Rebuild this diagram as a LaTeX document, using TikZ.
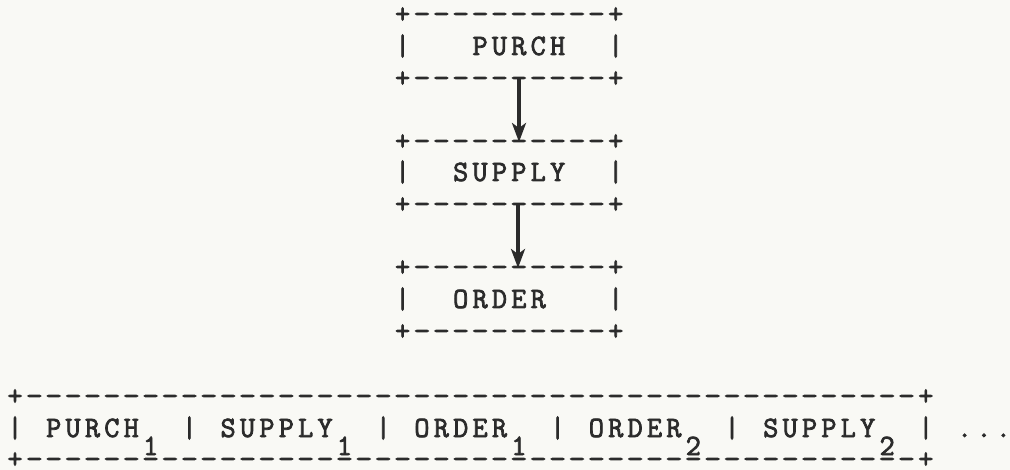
\documentclass[tikz,border=0pt]{standalone}
\usepackage{fontspec}
\usepackage{graphicx}
\usetikzlibrary{arrows.meta}
\newfontfamily\typefont[FakeBold=2.5]{Latin Modern Mono}
\definecolor{ink}{HTML}{2B2B2B}
\definecolor{paper}{HTML}{F9F9F5}
\newlength\cellw
\setlength\cellw{19.38pt}
% one typewriter line: every character sits in a cell of fixed pitch,
% '_' is a blank cell and '-' is a slightly widened rule dash
\ExplSyntaxOn
\NewDocumentCommand\typerow{m}
  {
    \str_map_inline:nn {#1}
      {
        \str_case:nnF {##1}
          {
            {_} { \hbox_to_wd:nn {\cellw} {} }
            {-} { \makebox[\cellw][c]{\scalebox{1.12}[1]{-}} }
          }
          { \makebox[\cellw][c]{##1} }
      }
  }
\ExplSyntaxOff
\tikzset{
  row/.style={inner sep=0pt, outer sep=0pt, anchor=base west, text=ink,
    font=\typefont\fontsize{29.5}{29.5}\selectfont},
  subdigit/.style={inner sep=0pt, outer sep=0pt, anchor=base, text=ink,
    font=\typefont\fontsize{29.5}{29.5}\selectfont},
  flow/.style={draw=ink, line width=3.2pt,
    -{Stealth[length=19pt,width=14pt,inset=5pt]}}
}
\begin{document}
\begin{tikzpicture}[x=1pt,y=-1pt]
\fill[paper] (0,0) rectangle (1010,470);
\useasboundingbox (0,0) rectangle (1010,470);

% PURCH box
\node[row] (purchtop) at (392.91,23) {\typerow{+----------+}};
\node[row] (purchmid) at (392.91,55) {\typerow{|___PURCH__|}};
\node[row] (purchbot) at (392.91,87) {\typerow{+----------+}};

% SUPPLY box
\node[row] (supplytop) at (392.91,150) {\typerow{+----------+}};
\node[row] (supplymid) at (392.91,181) {\typerow{|__SUPPLY__|}};
\node[row] (supplybot) at (392.91,213) {\typerow{+----------+}};

% ORDER box
\node[row] (ordertop) at (392.91,276) {\typerow{+----------+}};
\node[row] (ordermid) at (392.91,308) {\typerow{|__ORDER___|}};
\node[row] (orderbot) at (392.91,340) {\typerow{+----------+}};

% record sequence
\node[row] (seqtop) at (5.31,405) {\typerow{+----------------------------------------------+}};
\node[row] (seqmid) at (5.31,437) {\typerow{|_PURCH__|_SUPPLY__|_ORDER__|_ORDER__|_SUPPLY__|_...}};
\node[row] (seqbot) at (5.31,468) {\typerow{+----------------------------------------------+}};

% lowered indices
\node[subdigit] (sub1) at ({15+19.38*7},455) {1};
\node[subdigit] (sub2) at ({15+19.38*17},455) {1};
\node[subdigit] (sub3) at ({15+19.38*26},455) {1};
\node[subdigit] (sub4) at ({15+19.38*35},455) {2};
\node[subdigit] (sub5) at ({15+19.38*45},455) {2};

% arrows between the boxes
\coordinate (p2s) at (519,79);
\coordinate (s2o) at (519,142);
\coordinate (s2s) at (518,205);
\coordinate (o2o) at (518,268);
\draw[flow] (p2s) -- (s2o);
\draw[flow] (s2s) -- (o2o);
\end{tikzpicture}
\end{document}
